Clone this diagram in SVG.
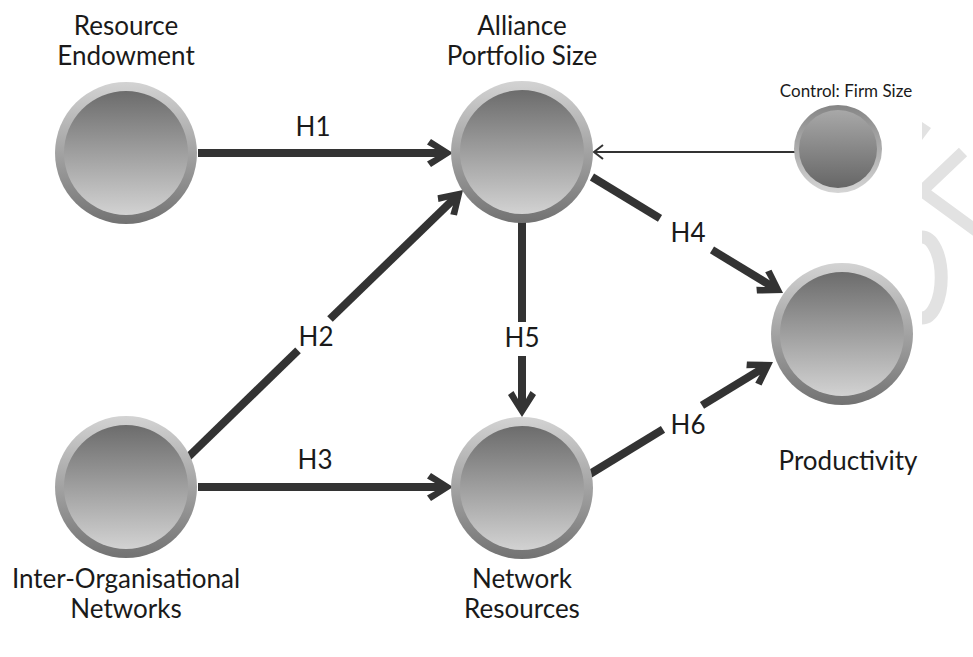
<svg xmlns="http://www.w3.org/2000/svg" width="973" height="657" viewBox="0 0 973 657">
<style>
.lbl{font-family:Lato,"Open Sans","Liberation Sans",sans-serif;font-size:26px;fill:#1a1a1a;text-anchor:middle}
.h{font-family:Lato,"Open Sans","Liberation Sans",sans-serif;font-size:26px;fill:#1a1a1a;text-anchor:middle}
.small{font-family:Lato,"Open Sans","Liberation Sans",sans-serif;font-size:17px;fill:#1a1a1a;text-anchor:middle}
.ln{stroke:#333;stroke-width:8;fill:none}
.thin{stroke:#333;stroke-width:2;fill:none}
.wm{stroke:#e2e2e2;fill:none}
</style>
<defs>
<linearGradient id="ring" x1="0" y1="0" x2="0" y2="1"><stop offset="0" stop-color="#d3d3d3"/><stop offset="1" stop-color="#727272"/></linearGradient>
<linearGradient id="disc" x1="0" y1="0" x2="0" y2="1"><stop offset="0" stop-color="#6c6c6c"/><stop offset="1" stop-color="#d2d2d2"/></linearGradient>
<linearGradient id="cring" x1="0" y1="0" x2="0" y2="1"><stop offset="0" stop-color="#858585"/><stop offset="1" stop-color="#d5d5d5"/></linearGradient>
<linearGradient id="cdisc" x1="0" y1="0" x2="0" y2="1"><stop offset="0" stop-color="#a8a8a8"/><stop offset="1" stop-color="#666"/></linearGradient>
<marker id="ah" markerUnits="userSpaceOnUse" orient="auto" refX="0" refY="0" markerWidth="40" markerHeight="40" viewBox="-20 -20 40 40" overflow="visible">
<path d="M13,0 L-9,-14 L-13,-8.5 L-5,-4 L-5,4 L-13,8.5 L-9,14 Z" fill="#333"/>
</marker>
<marker id="ahs" markerUnits="userSpaceOnUse" orient="auto" refX="0" refY="0" markerWidth="30" markerHeight="30" viewBox="-15 -15 30 30" overflow="visible">
<path d="M-9,-7 L0,0 L-9,7" fill="none" stroke="#333" stroke-width="2"/>
</marker>
<clipPath id="wmclip"><rect x="922" y="0" width="51" height="657"/></clipPath>
</defs>
<rect width="973" height="657" fill="#fff"/>

<g id="watermark" clip-path="url(#wmclip)">
<polygon points="922,122 931,128 922,140" fill="#e2e2e2"/>
<polyline class="wm" stroke-width="12" points="963,152 922,191 978,232"/>
<path class="wm" stroke-width="13" d="M922,237 A19 40 0 0 1 922,318"/>
</g>

<g id="connectors">
<line class="ln" x1="198" y1="153" x2="440" y2="153" marker-end="url(#ah)"/>
<line class="ln" x1="198" y1="487" x2="440" y2="487" marker-end="url(#ah)"/>
<line class="ln" x1="180" y1="465" x2="298" y2="350.3"/>
<line class="ln" x1="330" y1="319" x2="453.7" y2="199.1" marker-end="url(#ah)"/>
<line class="ln" x1="522" y1="222" x2="522" y2="322"/>
<line class="ln" x1="522" y1="356" x2="522" y2="404" marker-end="url(#ah)"/>
<line class="ln" x1="592" y1="177" x2="660" y2="218.3"/>
<line class="ln" x1="712" y1="249.9" x2="771.9" y2="286.3" marker-end="url(#ah)"/>
<line class="ln" x1="585" y1="477" x2="663" y2="429.3"/>
<line class="ln" x1="702" y1="405.4" x2="761.9" y2="368.8" marker-end="url(#ah)"/>
<line class="thin" x1="795" y1="152" x2="594" y2="152" marker-end="url(#ahs)"/>
<text class="h" x="313" y="136">H1</text>
<text class="h" x="316" y="346">H2</text>
<text class="h" x="315" y="469">H3</text>
<text class="h" x="688" y="242">H4</text>
<text class="h" x="522" y="347">H5</text>
<text class="h" x="688" y="434">H6</text>
</g>

<g id="resource-endowment">
<circle cx="126" cy="153" r="71" fill="url(#ring)"/>
<circle cx="126" cy="153" r="62" fill="url(#disc)"/>
<text class="lbl" x="126" y="35">Resource</text>
<text class="lbl" x="126" y="65">Endowment</text>
</g>

<g id="alliance-portfolio-size">
<circle cx="522" cy="152" r="71" fill="url(#ring)"/>
<circle cx="522" cy="152" r="62" fill="url(#disc)"/>
<text class="lbl" x="522" y="35">Alliance</text>
<text class="lbl" x="522" y="65">Portfolio Size</text>
</g>

<g id="control-firm-size">
<circle cx="838" cy="149" r="44" fill="url(#cring)"/>
<circle cx="838" cy="149" r="39" fill="url(#cdisc)"/>
<text class="small" x="846" y="97">Control: Firm Size</text>
</g>

<g id="productivity">
<circle cx="842" cy="334" r="71" fill="url(#ring)"/>
<circle cx="842" cy="334" r="62" fill="url(#disc)"/>
<text class="lbl" x="848" y="470">Productivity</text>
</g>

<g id="inter-organisational-networks">
<circle cx="126" cy="487" r="71" fill="url(#ring)"/>
<circle cx="126" cy="487" r="62" fill="url(#disc)"/>
<text class="lbl" x="126" y="588">Inter-Organisational</text>
<text class="lbl" x="126" y="618">Networks</text>
</g>

<g id="network-resources">
<circle cx="522" cy="488" r="71" fill="url(#ring)"/>
<circle cx="522" cy="488" r="62" fill="url(#disc)"/>
<text class="lbl" x="522" y="588">Network</text>
<text class="lbl" x="522" y="618">Resources</text>
</g>
</svg>
